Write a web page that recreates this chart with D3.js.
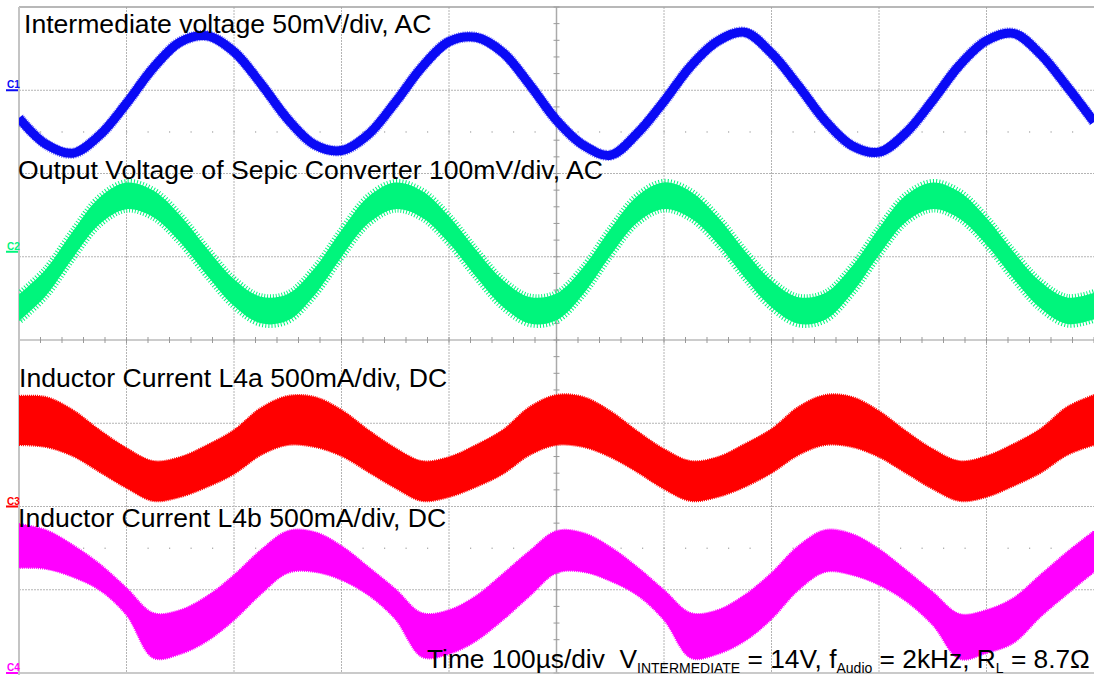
<!DOCTYPE html>
<html><head><meta charset="utf-8">
<script src="https://cdn.jsdelivr.net/npm/d3@7"></script>
<style>html,body{margin:0;padding:0;background:#fff;} svg{display:block;}</style>
</head><body><svg id="c" width="1094" height="679"></svg>
<script>
// time samples (µs), 100 µs/div
const timeUs = [0,25,50,75,100,125,150,175,200,225,250,275,300,325,350,375,400,425,450,475,500,
  525,550,575,600,625,650,675,700,725,750,775,800,825,850,875,900,925,950,975,1000];
// C1: intermediate voltage, AC, mV
const ch1Center = [-16.7,-32.4,-37.8,-27.0,-7.9,13.5,29.0,32.7,23.1,4.0,-17.4,-32.7,-36.2,-26.5,-7.3,14.0,29.2,31.8,22.7,3.4,
  -18.0,-33.0,-39.0,-26.0,-6.7,14.6,29.5,34.8,22.2,2.7,-18.4,-33.3,-37.2,-25.6,-6.1,15.1,29.8,34.2,21.8,2.2,-19.0];
// C2: output voltage of Sepic converter, AC, mV
const ch2Center = [-67.3,-36.9,8.4,49.2,67.1,57.5,27.5,-12.5,-49.1,-70.0,-66.7,-35.8,9.8,50.1,67.1,56.9,26.5,-13.7,-50.0,-70.3,
  -66.2,-34.6,11.1,50.8,67.3,56.2,25.6,-14.8,-50.8,-70.5,-65.6,-33.5,12.1,51.8,67.3,55.7,24.5,-16.0,-51.7,-70.8,-65.1];
const ch2Ripple = 16; // mV, half band
// C3: inductor current L4a, DC, mA (upper / lower envelope of switching ripple)
const ch3Upper = [664,658,580,459,351,273,297,369,459,592,664,658,580,459,351,273,297,369,459,598,
  670,658,574,453,345,273,297,375,465,598,670,658,574,453,345,273,303,375,465,598,670];
const ch3Lower = [369,357,303,207,111,33,57,117,195,309,369,357,303,207,111,33,57,117,195,309,
  369,357,297,207,105,33,57,117,201,309,369,357,297,201,105,33,57,123,201,309,369];
// C4: inductor current L4b, DC, mA
const ch4Upper = [895,859,769,655,511,360,378,462,589,739,853,847,763,637,505,360,378,462,595,733,
  853,841,757,637,498,360,378,468,601,763,859,835,745,619,486,354,378,450,589,727,853];
const ch4Lower = [631,625,577,498,348,90,114,192,318,474,601,607,559,468,324,96,114,192,318,462,
  601,607,553,468,318,90,114,192,324,498,607,589,529,432,288,84,120,180,336,474,607];

const labels = ["Intermediate voltage 50mV/div, AC","Output Voltage of Sepic Converter 100mV/div, AC",
  "Inductor Current L4a 500mA/div, DC","Inductor Current L4b 500mA/div, DC"];
const channelNames = ["C1","C2","C3","C4"];
const perDiv = [50,100,500,500];
const offsetDiv = [3.0,1.06,-2.0,-4.0];

const svg = d3.select("#c");
const L=19,R=1094,T=7,B=673;
const x = d3.scaleLinear().domain([0,1000]).range([L,R]);
const yd = d3.scaleLinear().domain([-4,4]).range([B,T]);
const chScale = i => d3.scaleLinear()
  .domain([(-4-offsetDiv[i])*perDiv[i],(4-offsetDiv[i])*perDiv[i]]).range([B,T]);
const colors = ["#0a0af5","#00f57c","#ff0000","#ff00ff"];

// grid
const g = svg.append("g");
const major = x.ticks(10), minorX = x.ticks(50), minorY = yd.ticks(40);
major.filter(d=>d>0&&d<1000&&d!==500).forEach(d=>{
  g.append("line").attr("x1",x(d)).attr("x2",x(d)).attr("y1",T).attr("y2",B)
   .attr("stroke","#b4b4b4").attr("stroke-dasharray","2,1");
});
yd.ticks(8).filter(d=>d>-4&&d<4&&d!==0).forEach(d=>{
  g.append("line").attr("x1",L).attr("x2",R).attr("y1",yd(d)).attr("y2",yd(d))
   .attr("stroke","#b4b4b4").attr("stroke-dasharray","2,1");
});
[2.5,-2.5].forEach(r=>{
  minorX.filter(d=>d>0&&d<1000).forEach(d=>{
    g.append("rect").attr("x",x(d)-0.5).attr("y",yd(r)-0.5).attr("width",1.2).attr("height",1.2).attr("fill","#a0a0a0");
  });
});
g.append("line").attr("x1",L).attr("x2",R).attr("y1",yd(0)).attr("y2",yd(0)).attr("stroke","#999").attr("stroke-width",1.2);
g.append("line").attr("x1",x(500)).attr("x2",x(500)).attr("y1",T).attr("y2",B).attr("stroke","#aaa").attr("stroke-width",1.5);
minorX.forEach(d=>{
  g.append("line").attr("x1",x(d)).attr("x2",x(d)).attr("y1",yd(0)-3).attr("y2",yd(0)+3).attr("stroke","#999");
});
minorY.forEach(d=>{
  g.append("line").attr("x1",x(500)-3).attr("x2",x(500)+3).attr("y1",yd(d)).attr("y2",yd(d)).attr("stroke","#999");
});
g.append("line").attr("x1",L).attr("x2",R).attr("y1",T).attr("y2",T).attr("stroke","#a0a0a0").attr("stroke-width",1.5);
g.append("line").attr("x1",L).attr("x2",R).attr("y1",B).attr("y2",B).attr("stroke","#b8b8b8").attr("stroke-width",1.5);
g.append("line").attr("x1",L).attr("x2",L).attr("y1",T).attr("y2",B+2).attr("stroke","#c4c4c4").attr("stroke-width",2);

svg.append("clipPath").attr("id","clip").append("rect").attr("x",L).attr("y",T).attr("width",R-L).attr("height",B-T);
const traces = svg.append("g").attr("clip-path","url(#clip)");
const curve = d3.curveCatmullRom.alpha(0.5);

// C1
const s1 = chScale(0);
const line1 = d3.line().x(d=>x(d[0])).y(d=>s1(d[1])).curve(curve);
const d1 = timeUs.map((t,i)=>[t,ch1Center[i]]);
traces.append("path").datum(d1).attr("d",line1)
  .attr("fill","none").attr("stroke",colors[0]).attr("stroke-width",11).attr("stroke-dasharray","1,1").attr("opacity",0.6);
traces.append("path").datum(d1).attr("d",line1)
  .attr("fill","none").attr("stroke",colors[0]).attr("stroke-width",9);
// C2
const s2 = chScale(1);
traces.append("path").datum(timeUs.map((t,i)=>[t,ch2Center[i]]))
  .attr("d",d3.area().x(d=>x(d[0])).y0(d=>s2(d[1]-ch2Ripple)).y1(d=>s2(d[1]+ch2Ripple)).curve(curve))
  .attr("fill",colors[1]).attr("stroke",colors[1]).attr("stroke-width",7).attr("stroke-dasharray","1,2");
// C3
const s3 = chScale(2);
traces.append("path").datum(timeUs.map((t,i)=>[t,ch3Lower[i],ch3Upper[i]]))
  .attr("d",d3.area().x(d=>x(d[0])).y0(d=>s3(d[1])).y1(d=>s3(d[2])).curve(curve))
  .attr("fill",colors[2]).attr("stroke",colors[2]).attr("stroke-width",2).attr("stroke-dasharray","1,1");
// C4
const s4 = chScale(3);
traces.append("path").datum(timeUs.map((t,i)=>[t,ch4Lower[i],ch4Upper[i]]))
  .attr("d",d3.area().x(d=>x(d[0])).y0(d=>s4(d[1])).y1(d=>s4(d[2])).curve(curve))
  .attr("fill",colors[3]).attr("stroke",colors[3]).attr("stroke-width",2).attr("stroke-dasharray","1,1");

// channel markers
channelNames.forEach((n,i)=>{
  const yy = yd(offsetDiv[i]);
  svg.append("text").attr("x",7).attr("y",yy-2).attr("font-family","Liberation Sans, Arial, sans-serif")
    .attr("font-size",10).attr("font-weight","bold").attr("fill",colors[i]).text(n);
  svg.append("line").attr("x1",6).attr("x2",18).attr("y1",yy).attr("y2",yy).attr("stroke",colors[i]).attr("stroke-width",2);
});

// labels
const font = "Liberation Sans, Arial, sans-serif";
const labelPos = [[24,33],[18,179],[19,387],[18,527]];
labels.forEach((t,i)=>{
  svg.append("text").attr("x",labelPos[i][0]).attr("y",labelPos[i][1]).attr("font-family",font)
    .attr("font-size",26.6).attr("fill","#000").text(t);
});
const bt = svg.append("text").attr("x",427).attr("y",668).attr("font-family",font).attr("font-size",26.3)
  .attr("fill","#000").attr("xml:space","preserve");
bt.append("tspan").text("Time 100µs/div  V");
bt.append("tspan").attr("font-size",14).attr("dy",5).text("INTERMEDIATE");
bt.append("tspan").attr("dy",-5).text(" = 14V, f");
bt.append("tspan").attr("font-size",14).attr("dy",5).text("Audio");
bt.append("tspan").attr("dy",-5).text(" = 2kHz, R");
bt.append("tspan").attr("font-size",14).attr("dy",5).text("L");
bt.append("tspan").attr("dy",-5).text(" = 8.7Ω");
</script></body></html>
